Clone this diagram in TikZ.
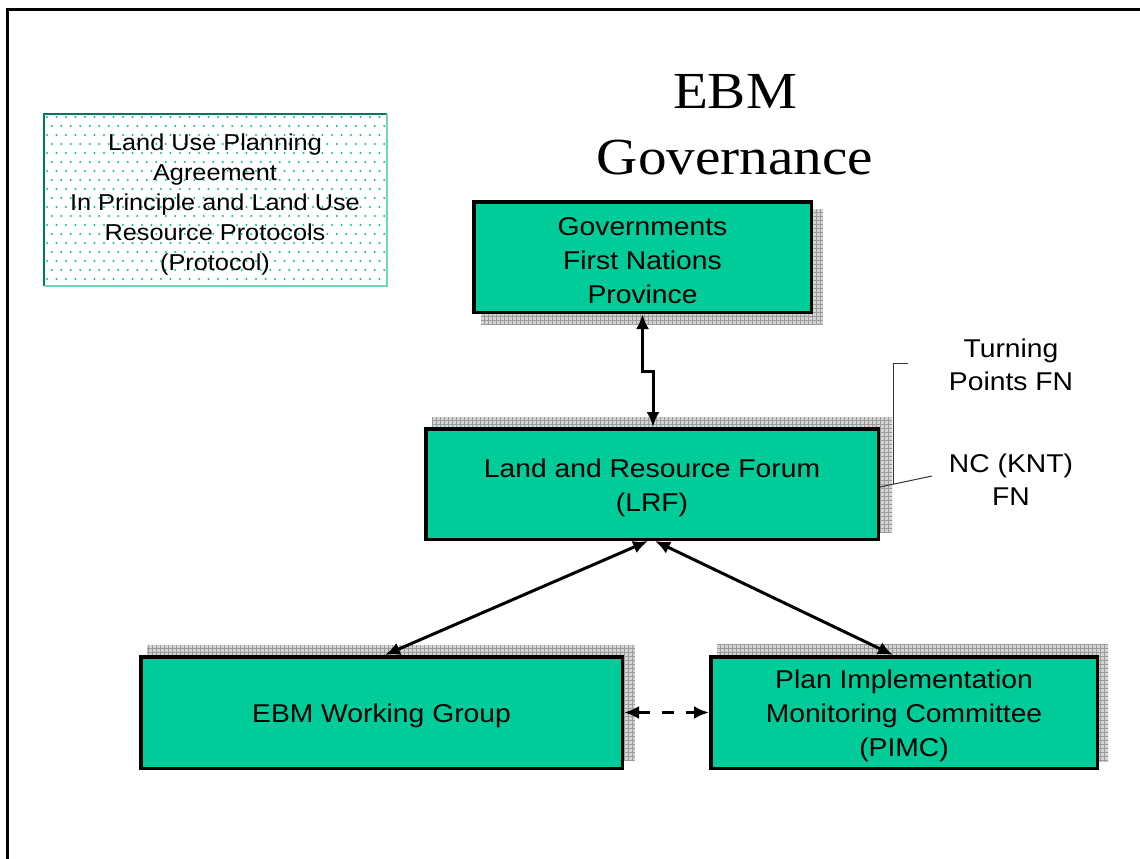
\documentclass[tikz,border=0pt]{standalone}
\usepackage{fontspec}
\newfontfamily\arialx{Liberation Sans}[FakeStretch=1.1]
\newfontfamily\timesx{Liberation Serif}[FakeStretch=1.1]
\usetikzlibrary{arrows.meta,calc}
\definecolor{boxgreen}{RGB}{0,204,153}
\definecolor{dotgreen}{RGB}{0,195,145}
\definecolor{darkteal}{RGB}{0,120,90}
\definecolor{lightteal}{RGB}{110,215,180}
\definecolor{shadowgray}{RGB}{212,212,212}
\definecolor{gridgray}{RGB}{155,155,155}
\newcommand\gridshadow[2]{%
  \fill[shadowgray] #1 rectangle #2;
  \begin{scope}
    \clip #1 rectangle #2;
    \draw[gridgray, line width=0.35pt, step=4pt] #1 grid #2;
  \end{scope}}
\newcommand\toppad{\rule{0pt}{26pt}}
\tikzset{
  orgbox/.style={draw=black, line width=3.5pt, fill=boxgreen, align=center,
    font=\arialx\fontsize{25.7}{34}\selectfont, inner sep=0pt},
  legendbox/.style={align=center, inner sep=0pt,
    font=\arialx\fontsize{23}{30}\selectfont,
    minimum width=344pt, minimum height=173pt},
  sidetext/.style={align=center, font=\arialx\fontsize{25.7}{33}\selectfont, inner sep=0pt},
  titletext/.style={align=center, font=\timesx\fontsize{52}{66}\selectfont, inner sep=0pt},
  link/.style={line width=3pt, {Latex[length=15pt,width=13pt]}-{Latex[length=15pt,width=13pt]}},
  dashlink/.style={link, dash pattern=on 12pt off 12pt},
  callout/.style={line width=1pt, black!80},
}
\begin{document}
\begin{tikzpicture}[x=1pt, y=-1pt]
\useasboundingbox (0,0) rectangle (1140,859);
\fill[white] (0,0) rectangle (1140,859);
% frame
\draw[line width=3pt] (7,859) -- (7,10) -- (1140,10);

% legend dots
\begin{scope}
  \clip (43,113) rectangle (387,286);
  \foreach \r in {0,...,19}{
    \foreach \c in {0,...,37}{
      \fill[dotgreen] ({47+\c*9.5+mod(\r,2)*4.75},{117+\r*9}) circle (1.05pt);
    }
  }
\end{scope}
\node[legendbox] (lup) at (215,205) {Land Use Planning\\Agreement\\In Principle and Land Use\\Resource Protocols\\(Protocol)};
\draw[darkteal, line width=2pt] (44,286) -- (44,113.5) -- (387,113.5);
\draw[lightteal, line width=1.5pt] (387,113.5) -- (387,286) -- (44,286);

% title
\node[titletext] (title) at (735,125) {EBM\\Governance};

% shadows
\gridshadow{(481,209)}{(823,325)}
\gridshadow{(432,417)}{(892,533)}
\gridshadow{(147,645)}{(635,760)}
\gridshadow{(717,644)}{(1108,762)}

% boxes
\node[orgbox, minimum width=337.5pt, minimum height=110.5pt] (gov) at (642.5,257) {\toppad Governments\\First Nations\\Province};
\node[orgbox, minimum width=452.5pt, minimum height=110.5pt] (lrf) at (652,484) {\toppad Land and Resource Forum\\(LRF)};
\node[orgbox, minimum width=481.5pt, minimum height=111.5pt] (ebm) at (381.5,712.5) {\toppad EBM Working Group};
\node[orgbox, minimum width=386.5pt, minimum height=111.5pt] (pimc) at (904,712.5) {\toppad Plan Implementation\\Monitoring Committee\\(PIMC)};

% side labels
\node[sidetext] (tp) at (1011,365) {Turning\\Points FN};
\node[sidetext] (nc) at (1011,480) {NC (KNT)\\FN};
\coordinate (bracktop) at (908,363);
\coordinate (ncpt) at (932,476);
\draw[callout] (bracktop) -- (893,363) -- (893,484);
\draw[callout] ($(lrf.east)+(0,3)$) -- (ncpt);

% connectors
\draw[link] (gov.south) |- ($(lrf.north)+(1,-56)$) -- ($(lrf.north)+(1,0)$);
\draw[link] ($(lrf.south)+(-4,0)$) -- ($(ebm.north)+(3.5,0)$);
\draw[link] ($(lrf.south)+(3,0)$) -- ($(pimc.north)+(-11,0)$);
\draw[dashlink] (ebm.east) -- (pimc.west);
\end{tikzpicture}
\end{document}
